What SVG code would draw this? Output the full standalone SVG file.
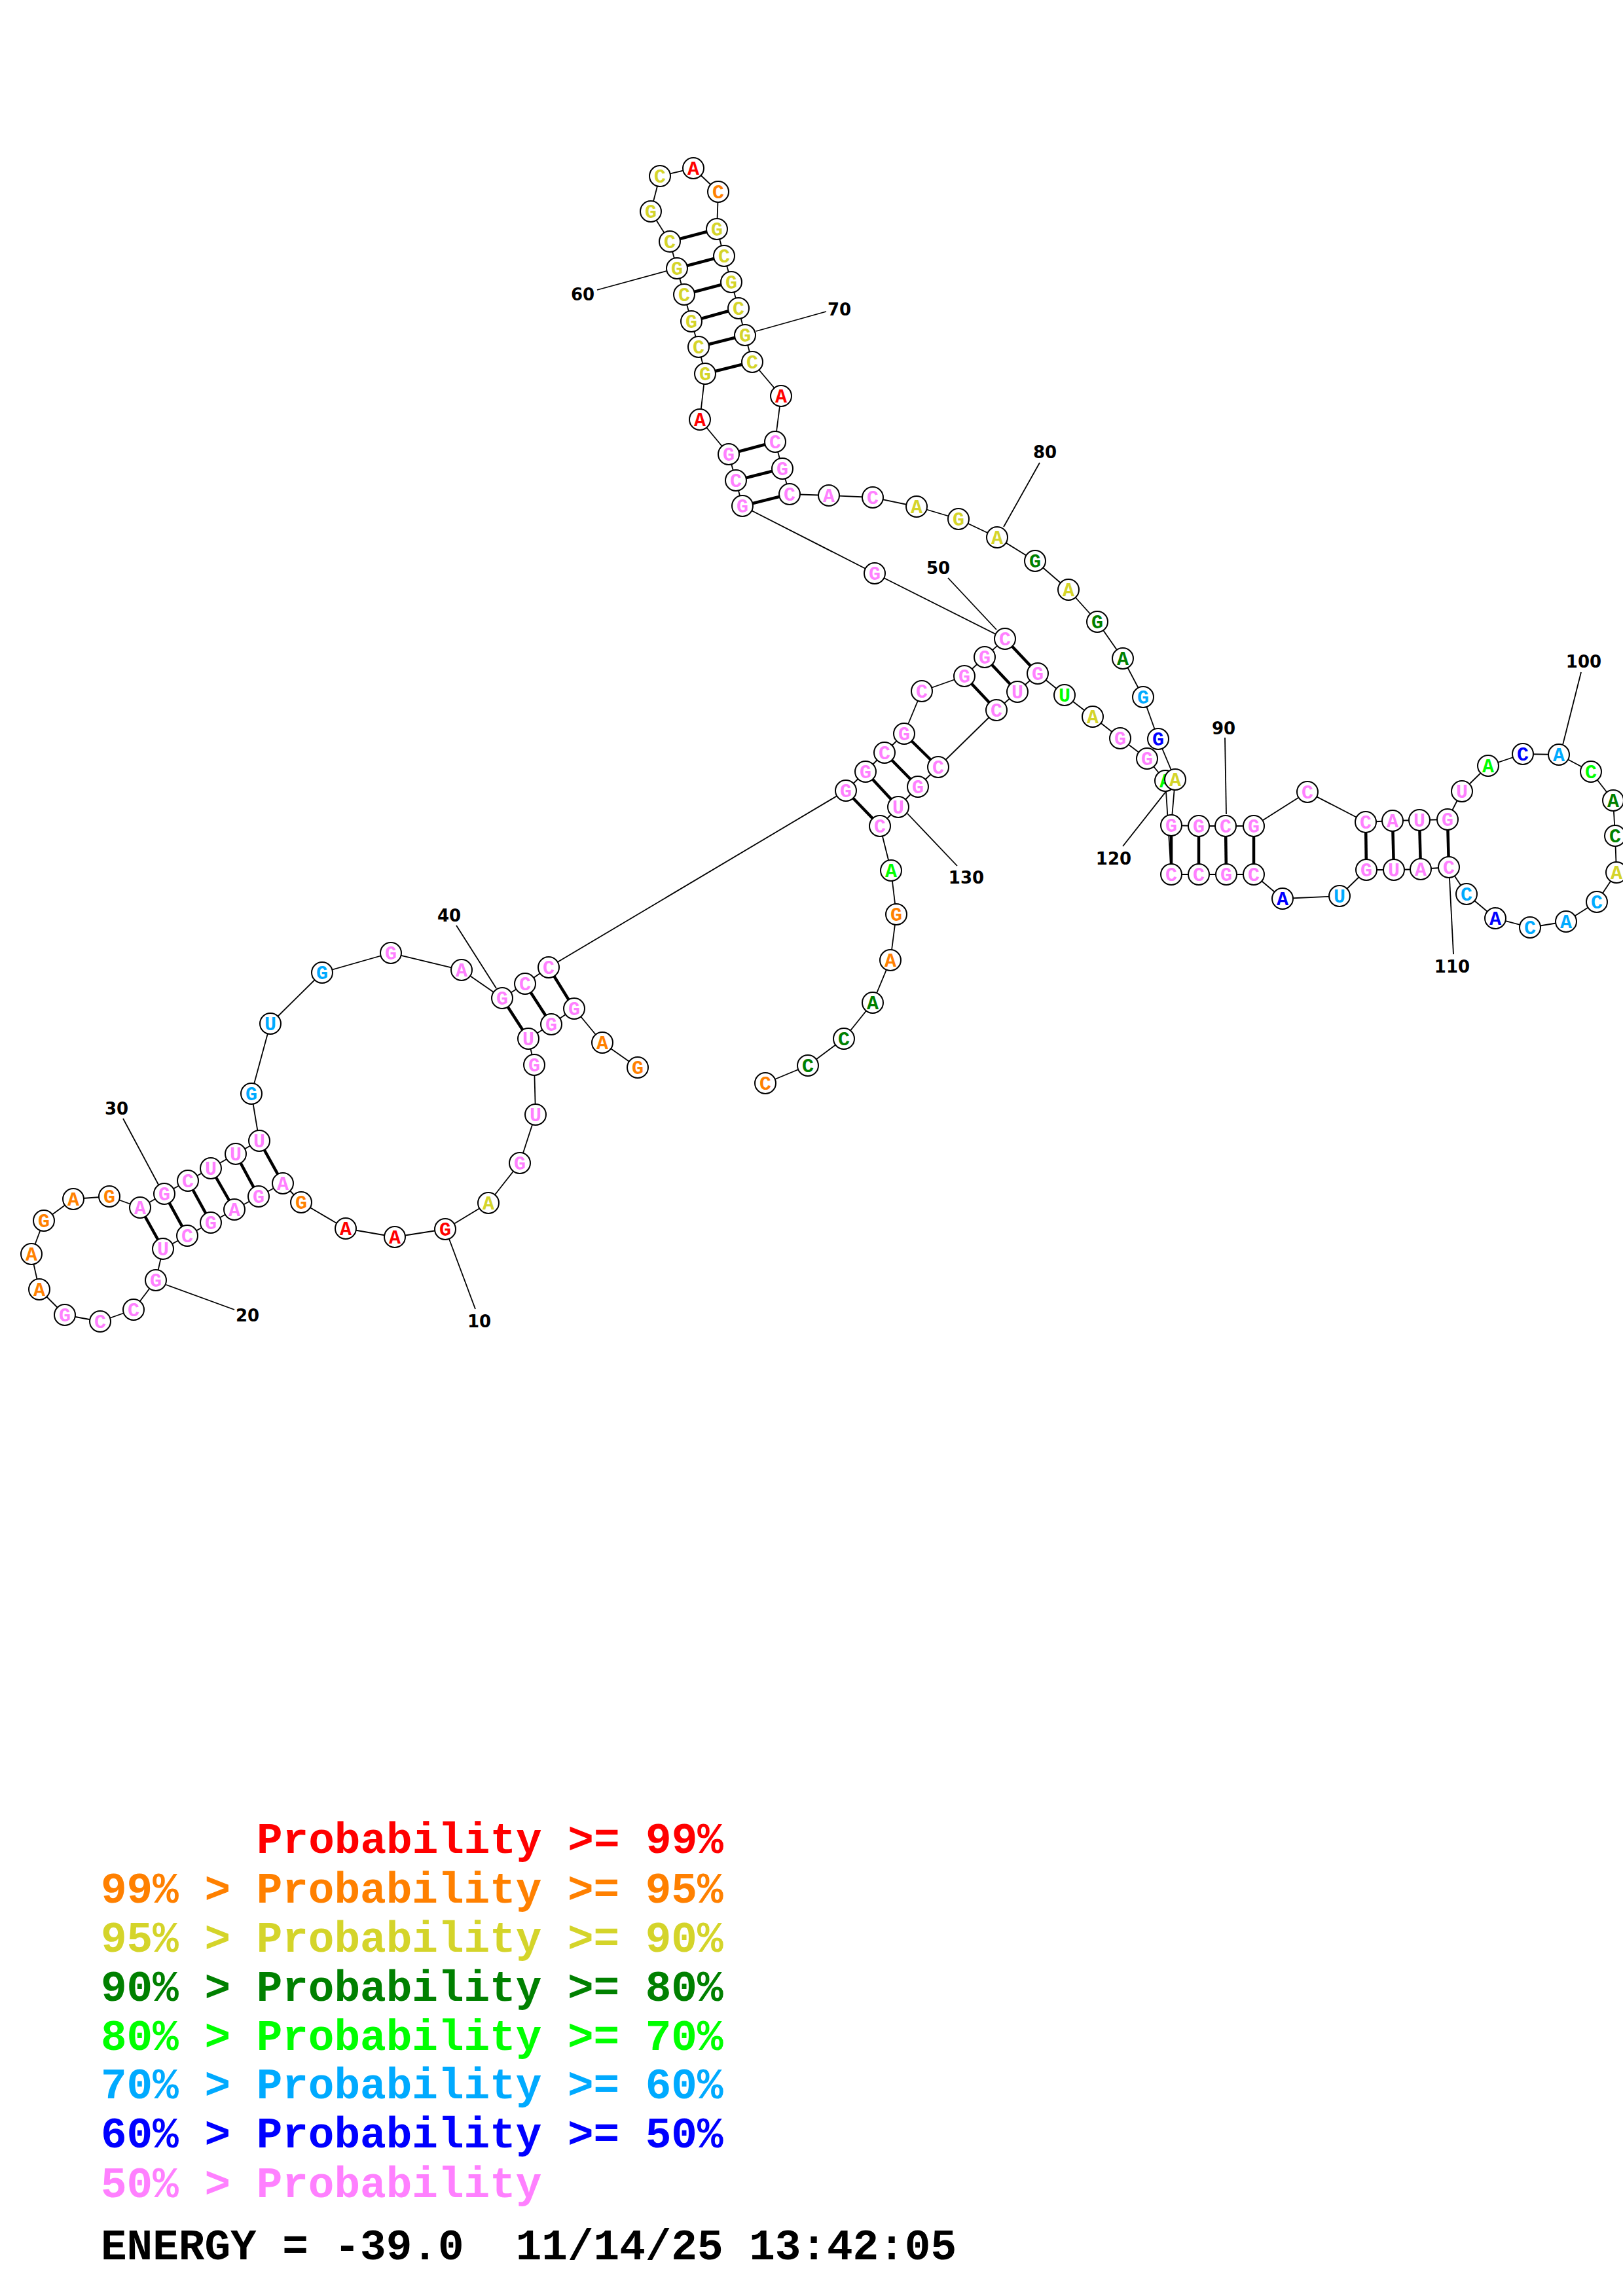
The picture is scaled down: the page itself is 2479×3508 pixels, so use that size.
<svg xmlns="http://www.w3.org/2000/svg" width="2479" height="3508" viewBox="0 0 2479 3508">
<style>
.bg{fill:#fff}
line.bb{stroke:#000;stroke-width:1.8}
line.bp{stroke:#000;stroke-width:4.5}
line.lb{stroke:#000;stroke-width:1.8}
circle{fill:#fff;stroke:#000;stroke-width:2}
text.t{font-family:"Liberation Mono",monospace;font-weight:bold;font-size:30px;text-anchor:middle}
text.n{font-family:"DejaVu Sans",sans-serif;font-weight:bold;font-size:26px;text-anchor:middle;fill:#000}
text.L{font-family:"Liberation Mono",monospace;font-weight:bold;font-size:66px}
.p{fill:#FF80FF}.r{fill:#FF0000}.o{fill:#FF8000}.y{fill:#D4D42A}.dg{fill:#008000}.g{fill:#00FF00}.lb{fill:#00AAFF}.b{fill:#0000FF}.k{fill:#000}
</style>
<rect class="bg" x="0" y="0" width="2479" height="3508"/>
<g id="connectors">
<line class="bb" x1="974" y1="1631" x2="920" y2="1593"/>
<line class="bb" x1="920" y1="1593" x2="877" y2="1541"/>
<line class="bb" x1="877" y1="1541" x2="842" y2="1565"/>
<line class="bb" x1="842" y1="1565" x2="807" y2="1587"/>
<line class="bb" x1="807" y1="1587" x2="816" y2="1627"/>
<line class="bb" x1="816" y1="1627" x2="818" y2="1703"/>
<line class="bb" x1="818" y1="1703" x2="794" y2="1777"/>
<line class="bb" x1="794" y1="1777" x2="746" y2="1838"/>
<line class="bb" x1="746" y1="1838" x2="680" y2="1878"/>
<line class="bb" x1="680" y1="1878" x2="603" y2="1890"/>
<line class="bb" x1="603" y1="1890" x2="528" y2="1877"/>
<line class="bb" x1="528" y1="1877" x2="460" y2="1837"/>
<line class="bb" x1="460" y1="1837" x2="432" y2="1808"/>
<line class="bb" x1="432" y1="1808" x2="395" y2="1828"/>
<line class="bb" x1="395" y1="1828" x2="358" y2="1848"/>
<line class="bb" x1="358" y1="1848" x2="322" y2="1868"/>
<line class="bb" x1="322" y1="1868" x2="286" y2="1888"/>
<line class="bb" x1="286" y1="1888" x2="249" y2="1908"/>
<line class="bb" x1="249" y1="1908" x2="238" y2="1956"/>
<line class="bb" x1="238" y1="1956" x2="204" y2="2001"/>
<line class="bb" x1="204" y1="2001" x2="153" y2="2019"/>
<line class="bb" x1="153" y1="2019" x2="99" y2="2009"/>
<line class="bb" x1="99" y1="2009" x2="60" y2="1970"/>
<line class="bb" x1="60" y1="1970" x2="48" y2="1916"/>
<line class="bb" x1="48" y1="1916" x2="67" y2="1865"/>
<line class="bb" x1="67" y1="1865" x2="112" y2="1832"/>
<line class="bb" x1="112" y1="1832" x2="167" y2="1828"/>
<line class="bb" x1="167" y1="1828" x2="214" y2="1845"/>
<line class="bb" x1="214" y1="1845" x2="251" y2="1824"/>
<line class="bb" x1="251" y1="1824" x2="287" y2="1804"/>
<line class="bb" x1="287" y1="1804" x2="322" y2="1785"/>
<line class="bb" x1="322" y1="1785" x2="360" y2="1763"/>
<line class="bb" x1="360" y1="1763" x2="396" y2="1743"/>
<line class="bb" x1="396" y1="1743" x2="384" y2="1671"/>
<line class="bb" x1="384" y1="1671" x2="413" y2="1564"/>
<line class="bb" x1="413" y1="1564" x2="492" y2="1486"/>
<line class="bb" x1="492" y1="1486" x2="597" y2="1456"/>
<line class="bb" x1="597" y1="1456" x2="705" y2="1482"/>
<line class="bb" x1="705" y1="1482" x2="767" y2="1525"/>
<line class="bb" x1="767" y1="1525" x2="802" y2="1503"/>
<line class="bb" x1="802" y1="1503" x2="838" y2="1478"/>
<line class="bb" x1="838" y1="1478" x2="1292" y2="1208"/>
<line class="bb" x1="1292" y1="1208" x2="1322" y2="1179"/>
<line class="bb" x1="1322" y1="1179" x2="1351" y2="1150"/>
<line class="bb" x1="1351" y1="1150" x2="1381" y2="1121"/>
<line class="bb" x1="1381" y1="1121" x2="1408" y2="1056"/>
<line class="bb" x1="1408" y1="1056" x2="1473" y2="1033"/>
<line class="bb" x1="1473" y1="1033" x2="1504" y2="1004"/>
<line class="bb" x1="1504" y1="1004" x2="1535" y2="976"/>
<line class="bb" x1="1535" y1="976" x2="1336" y2="876"/>
<line class="bb" x1="1336" y1="876" x2="1134" y2="773"/>
<line class="bb" x1="1134" y1="773" x2="1124" y2="734"/>
<line class="bb" x1="1124" y1="734" x2="1113" y2="694"/>
<line class="bb" x1="1113" y1="694" x2="1069" y2="641"/>
<line class="bb" x1="1069" y1="641" x2="1077" y2="571"/>
<line class="bb" x1="1077" y1="571" x2="1067" y2="530"/>
<line class="bb" x1="1067" y1="530" x2="1056" y2="491"/>
<line class="bb" x1="1056" y1="491" x2="1045" y2="450"/>
<line class="bb" x1="1045" y1="450" x2="1034" y2="410"/>
<line class="bb" x1="1034" y1="410" x2="1023" y2="369"/>
<line class="bb" x1="1023" y1="369" x2="994" y2="323"/>
<line class="bb" x1="994" y1="323" x2="1008" y2="269"/>
<line class="bb" x1="1008" y1="269" x2="1059" y2="257"/>
<line class="bb" x1="1059" y1="257" x2="1097" y2="293"/>
<line class="bb" x1="1097" y1="293" x2="1095" y2="350"/>
<line class="bb" x1="1095" y1="350" x2="1106" y2="391"/>
<line class="bb" x1="1106" y1="391" x2="1117" y2="431"/>
<line class="bb" x1="1117" y1="431" x2="1128" y2="471"/>
<line class="bb" x1="1128" y1="471" x2="1138" y2="512"/>
<line class="bb" x1="1138" y1="512" x2="1149" y2="553"/>
<line class="bb" x1="1149" y1="553" x2="1193" y2="605"/>
<line class="bb" x1="1193" y1="605" x2="1184" y2="675"/>
<line class="bb" x1="1184" y1="675" x2="1195" y2="716"/>
<line class="bb" x1="1195" y1="716" x2="1206" y2="755"/>
<line class="bb" x1="1206" y1="755" x2="1266" y2="757"/>
<line class="bb" x1="1266" y1="757" x2="1333" y2="760"/>
<line class="bb" x1="1333" y1="760" x2="1400" y2="774"/>
<line class="bb" x1="1400" y1="774" x2="1464" y2="793"/>
<line class="bb" x1="1464" y1="793" x2="1523" y2="821"/>
<line class="bb" x1="1523" y1="821" x2="1581" y2="857"/>
<line class="bb" x1="1581" y1="857" x2="1632" y2="901"/>
<line class="bb" x1="1632" y1="901" x2="1676" y2="950"/>
<line class="bb" x1="1676" y1="950" x2="1715" y2="1006"/>
<line class="bb" x1="1715" y1="1006" x2="1746" y2="1065"/>
<line class="bb" x1="1746" y1="1065" x2="1769" y2="1129"/>
<line class="bb" x1="1769" y1="1129" x2="1795" y2="1191"/>
<line class="bb" x1="1795" y1="1191" x2="1789" y2="1261"/>
<line class="bb" x1="1789" y1="1261" x2="1831" y2="1262"/>
<line class="bb" x1="1831" y1="1262" x2="1872" y2="1262"/>
<line class="bb" x1="1872" y1="1262" x2="1915" y2="1262"/>
<line class="bb" x1="1915" y1="1262" x2="1997" y2="1210"/>
<line class="bb" x1="1997" y1="1210" x2="2086" y2="1256"/>
<line class="bb" x1="2086" y1="1256" x2="2127" y2="1254"/>
<line class="bb" x1="2127" y1="1254" x2="2168" y2="1253"/>
<line class="bb" x1="2168" y1="1253" x2="2211" y2="1252"/>
<line class="bb" x1="2211" y1="1252" x2="2233" y2="1209"/>
<line class="bb" x1="2233" y1="1209" x2="2273" y2="1170"/>
<line class="bb" x1="2273" y1="1170" x2="2326" y2="1152"/>
<line class="bb" x1="2326" y1="1152" x2="2381" y2="1153"/>
<line class="bb" x1="2381" y1="1153" x2="2430" y2="1179"/>
<line class="bb" x1="2430" y1="1179" x2="2464" y2="1223"/>
<line class="bb" x1="2464" y1="1223" x2="2467" y2="1277"/>
<line class="bb" x1="2467" y1="1277" x2="2469" y2="1333"/>
<line class="bb" x1="2469" y1="1333" x2="2439" y2="1378"/>
<line class="bb" x1="2439" y1="1378" x2="2392" y2="1408"/>
<line class="bb" x1="2392" y1="1408" x2="2337" y2="1417"/>
<line class="bb" x1="2337" y1="1417" x2="2284" y2="1403"/>
<line class="bb" x1="2284" y1="1403" x2="2240" y2="1366"/>
<line class="bb" x1="2240" y1="1366" x2="2213" y2="1325"/>
<line class="bb" x1="2213" y1="1325" x2="2170" y2="1328"/>
<line class="bb" x1="2170" y1="1328" x2="2129" y2="1329"/>
<line class="bb" x1="2129" y1="1329" x2="2087" y2="1329"/>
<line class="bb" x1="2087" y1="1329" x2="2046" y2="1369"/>
<line class="bb" x1="2046" y1="1369" x2="1959" y2="1373"/>
<line class="bb" x1="1959" y1="1373" x2="1915" y2="1336"/>
<line class="bb" x1="1915" y1="1336" x2="1873" y2="1336"/>
<line class="bb" x1="1873" y1="1336" x2="1831" y2="1336"/>
<line class="bb" x1="1831" y1="1336" x2="1789" y2="1336"/>
<line class="bb" x1="1789" y1="1336" x2="1780" y2="1193"/>
<line class="bb" x1="1780" y1="1193" x2="1752" y2="1159"/>
<line class="bb" x1="1752" y1="1159" x2="1711" y2="1128"/>
<line class="bb" x1="1711" y1="1128" x2="1669" y2="1095"/>
<line class="bb" x1="1669" y1="1095" x2="1626" y2="1062"/>
<line class="bb" x1="1626" y1="1062" x2="1585" y2="1029"/>
<line class="bb" x1="1585" y1="1029" x2="1554" y2="1057"/>
<line class="bb" x1="1554" y1="1057" x2="1522" y2="1085"/>
<line class="bb" x1="1522" y1="1085" x2="1433" y2="1172"/>
<line class="bb" x1="1433" y1="1172" x2="1402" y2="1202"/>
<line class="bb" x1="1402" y1="1202" x2="1372" y2="1233"/>
<line class="bb" x1="1372" y1="1233" x2="1344" y2="1262"/>
<line class="bb" x1="1344" y1="1262" x2="1361" y2="1330"/>
<line class="bb" x1="1361" y1="1330" x2="1369" y2="1397"/>
<line class="bb" x1="1369" y1="1397" x2="1360" y2="1467"/>
<line class="bb" x1="1360" y1="1467" x2="1333" y2="1532"/>
<line class="bb" x1="1333" y1="1532" x2="1289" y2="1587"/>
<line class="bb" x1="1289" y1="1587" x2="1234" y2="1628"/>
<line class="bb" x1="1234" y1="1628" x2="1169" y2="1655"/>
<line class="bp" x1="877" y1="1541" x2="838" y2="1478"/>
<line class="bp" x1="842" y1="1565" x2="802" y2="1503"/>
<line class="bp" x1="807" y1="1587" x2="767" y2="1525"/>
<line class="bp" x1="432" y1="1808" x2="396" y2="1743"/>
<line class="bp" x1="395" y1="1828" x2="360" y2="1763"/>
<line class="bp" x1="358" y1="1848" x2="322" y2="1785"/>
<line class="bp" x1="322" y1="1868" x2="287" y2="1804"/>
<line class="bp" x1="286" y1="1888" x2="251" y2="1824"/>
<line class="bp" x1="249" y1="1908" x2="214" y2="1845"/>
<line class="bp" x1="1292" y1="1208" x2="1344" y2="1262"/>
<line class="bp" x1="1322" y1="1179" x2="1372" y2="1233"/>
<line class="bp" x1="1351" y1="1150" x2="1402" y2="1202"/>
<line class="bp" x1="1381" y1="1121" x2="1433" y2="1172"/>
<line class="bp" x1="1473" y1="1033" x2="1522" y2="1085"/>
<line class="bp" x1="1504" y1="1004" x2="1554" y2="1057"/>
<line class="bp" x1="1535" y1="976" x2="1585" y2="1029"/>
<line class="bp" x1="1134" y1="773" x2="1206" y2="755"/>
<line class="bp" x1="1124" y1="734" x2="1195" y2="716"/>
<line class="bp" x1="1113" y1="694" x2="1184" y2="675"/>
<line class="bp" x1="1077" y1="571" x2="1149" y2="553"/>
<line class="bp" x1="1067" y1="530" x2="1138" y2="512"/>
<line class="bp" x1="1056" y1="491" x2="1128" y2="471"/>
<line class="bp" x1="1045" y1="450" x2="1117" y2="431"/>
<line class="bp" x1="1034" y1="410" x2="1106" y2="391"/>
<line class="bp" x1="1023" y1="369" x2="1095" y2="350"/>
<line class="bp" x1="1789" y1="1261" x2="1789" y2="1336"/>
<line class="bp" x1="1831" y1="1262" x2="1831" y2="1336"/>
<line class="bp" x1="1872" y1="1262" x2="1873" y2="1336"/>
<line class="bp" x1="1915" y1="1262" x2="1915" y2="1336"/>
<line class="bp" x1="2086" y1="1256" x2="2087" y2="1329"/>
<line class="bp" x1="2127" y1="1254" x2="2129" y2="1329"/>
<line class="bp" x1="2168" y1="1253" x2="2170" y2="1328"/>
<line class="bp" x1="2211" y1="1252" x2="2213" y2="1325"/>
</g>
<g id="label-ticks">
<line class="lb" x1="686" y1="1893" x2="726" y2="2000"/>
<line class="lb" x1="254" y1="1963" x2="358" y2="2001"/>
<line class="lb" x1="188" y1="1709" x2="242" y2="1810"/>
<line class="lb" x1="697" y1="1414" x2="758" y2="1510"/>
<line class="lb" x1="1448" y1="883" x2="1522" y2="962"/>
<line class="lb" x1="912" y1="443" x2="1018" y2="414"/>
<line class="lb" x1="1262" y1="476" x2="1155" y2="506"/>
<line class="lb" x1="1588" y1="707" x2="1533" y2="805"/>
<line class="lb" x1="1871" y1="1127" x2="1873" y2="1244"/>
<line class="lb" x1="2415" y1="1027" x2="2387" y2="1138"/>
<line class="lb" x1="2214" y1="1342" x2="2220" y2="1458"/>
<line class="lb" x1="1782" y1="1208" x2="1715" y2="1293"/>
<line class="lb" x1="1386" y1="1243" x2="1462" y2="1323"/>
</g>
<g id="nodes">
<g id="n1"><circle cx="974" cy="1631" r="16"/><text class="t o" x="974" y="1641">G</text></g>
<g id="n2"><circle cx="920" cy="1593" r="16"/><text class="t o" x="920" y="1603">A</text></g>
<g id="n3"><circle cx="877" cy="1541" r="16"/><text class="t p" x="877" y="1551">G</text></g>
<g id="n4"><circle cx="842" cy="1565" r="16"/><text class="t p" x="842" y="1575">G</text></g>
<g id="n5"><circle cx="807" cy="1587" r="16"/><text class="t p" x="807" y="1597">U</text></g>
<g id="n6"><circle cx="816" cy="1627" r="16"/><text class="t p" x="816" y="1637">G</text></g>
<g id="n7"><circle cx="818" cy="1703" r="16"/><text class="t p" x="818" y="1713">U</text></g>
<g id="n8"><circle cx="794" cy="1777" r="16"/><text class="t p" x="794" y="1787">G</text></g>
<g id="n9"><circle cx="746" cy="1838" r="16"/><text class="t y" x="746" y="1848">A</text></g>
<g id="n10"><circle cx="680" cy="1878" r="16"/><text class="t r" x="680" y="1888">G</text></g>
<g id="n11"><circle cx="603" cy="1890" r="16"/><text class="t r" x="603" y="1900">A</text></g>
<g id="n12"><circle cx="528" cy="1877" r="16"/><text class="t r" x="528" y="1887">A</text></g>
<g id="n13"><circle cx="460" cy="1837" r="16"/><text class="t o" x="460" y="1847">G</text></g>
<g id="n14"><circle cx="432" cy="1808" r="16"/><text class="t p" x="432" y="1818">A</text></g>
<g id="n15"><circle cx="395" cy="1828" r="16"/><text class="t p" x="395" y="1838">G</text></g>
<g id="n16"><circle cx="358" cy="1848" r="16"/><text class="t p" x="358" y="1858">A</text></g>
<g id="n17"><circle cx="322" cy="1868" r="16"/><text class="t p" x="322" y="1878">G</text></g>
<g id="n18"><circle cx="286" cy="1888" r="16"/><text class="t p" x="286" y="1898">C</text></g>
<g id="n19"><circle cx="249" cy="1908" r="16"/><text class="t p" x="249" y="1918">U</text></g>
<g id="n20"><circle cx="238" cy="1956" r="16"/><text class="t p" x="238" y="1966">G</text></g>
<g id="n21"><circle cx="204" cy="2001" r="16"/><text class="t p" x="204" y="2011">C</text></g>
<g id="n22"><circle cx="153" cy="2019" r="16"/><text class="t p" x="153" y="2029">C</text></g>
<g id="n23"><circle cx="99" cy="2009" r="16"/><text class="t p" x="99" y="2019">G</text></g>
<g id="n24"><circle cx="60" cy="1970" r="16"/><text class="t o" x="60" y="1980">A</text></g>
<g id="n25"><circle cx="48" cy="1916" r="16"/><text class="t o" x="48" y="1926">A</text></g>
<g id="n26"><circle cx="67" cy="1865" r="16"/><text class="t o" x="67" y="1875">G</text></g>
<g id="n27"><circle cx="112" cy="1832" r="16"/><text class="t o" x="112" y="1842">A</text></g>
<g id="n28"><circle cx="167" cy="1828" r="16"/><text class="t o" x="167" y="1838">G</text></g>
<g id="n29"><circle cx="214" cy="1845" r="16"/><text class="t p" x="214" y="1855">A</text></g>
<g id="n30"><circle cx="251" cy="1824" r="16"/><text class="t p" x="251" y="1834">G</text></g>
<g id="n31"><circle cx="287" cy="1804" r="16"/><text class="t p" x="287" y="1814">C</text></g>
<g id="n32"><circle cx="322" cy="1785" r="16"/><text class="t p" x="322" y="1795">U</text></g>
<g id="n33"><circle cx="360" cy="1763" r="16"/><text class="t p" x="360" y="1773">U</text></g>
<g id="n34"><circle cx="396" cy="1743" r="16"/><text class="t p" x="396" y="1753">U</text></g>
<g id="n35"><circle cx="384" cy="1671" r="16"/><text class="t lb" x="384" y="1681">G</text></g>
<g id="n36"><circle cx="413" cy="1564" r="16"/><text class="t lb" x="413" y="1574">U</text></g>
<g id="n37"><circle cx="492" cy="1486" r="16"/><text class="t lb" x="492" y="1496">G</text></g>
<g id="n38"><circle cx="597" cy="1456" r="16"/><text class="t p" x="597" y="1466">G</text></g>
<g id="n39"><circle cx="705" cy="1482" r="16"/><text class="t p" x="705" y="1492">A</text></g>
<g id="n40"><circle cx="767" cy="1525" r="16"/><text class="t p" x="767" y="1535">G</text></g>
<g id="n41"><circle cx="802" cy="1503" r="16"/><text class="t p" x="802" y="1513">C</text></g>
<g id="n42"><circle cx="838" cy="1478" r="16"/><text class="t p" x="838" y="1488">C</text></g>
<g id="n43"><circle cx="1292" cy="1208" r="16"/><text class="t p" x="1292" y="1218">G</text></g>
<g id="n44"><circle cx="1322" cy="1179" r="16"/><text class="t p" x="1322" y="1189">G</text></g>
<g id="n45"><circle cx="1351" cy="1150" r="16"/><text class="t p" x="1351" y="1160">C</text></g>
<g id="n46"><circle cx="1381" cy="1121" r="16"/><text class="t p" x="1381" y="1131">G</text></g>
<g id="n47"><circle cx="1408" cy="1056" r="16"/><text class="t p" x="1408" y="1066">C</text></g>
<g id="n48"><circle cx="1473" cy="1033" r="16"/><text class="t p" x="1473" y="1043">G</text></g>
<g id="n49"><circle cx="1504" cy="1004" r="16"/><text class="t p" x="1504" y="1014">G</text></g>
<g id="n50"><circle cx="1535" cy="976" r="16"/><text class="t p" x="1535" y="986">C</text></g>
<g id="n51"><circle cx="1336" cy="876" r="16"/><text class="t p" x="1336" y="886">G</text></g>
<g id="n52"><circle cx="1134" cy="773" r="16"/><text class="t p" x="1134" y="783">G</text></g>
<g id="n53"><circle cx="1124" cy="734" r="16"/><text class="t p" x="1124" y="744">C</text></g>
<g id="n54"><circle cx="1113" cy="694" r="16"/><text class="t p" x="1113" y="704">G</text></g>
<g id="n55"><circle cx="1069" cy="641" r="16"/><text class="t r" x="1069" y="651">A</text></g>
<g id="n56"><circle cx="1077" cy="571" r="16"/><text class="t y" x="1077" y="581">G</text></g>
<g id="n57"><circle cx="1067" cy="530" r="16"/><text class="t y" x="1067" y="540">C</text></g>
<g id="n58"><circle cx="1056" cy="491" r="16"/><text class="t y" x="1056" y="501">G</text></g>
<g id="n59"><circle cx="1045" cy="450" r="16"/><text class="t y" x="1045" y="460">C</text></g>
<g id="n60"><circle cx="1034" cy="410" r="16"/><text class="t y" x="1034" y="420">G</text></g>
<g id="n61"><circle cx="1023" cy="369" r="16"/><text class="t y" x="1023" y="379">C</text></g>
<g id="n62"><circle cx="994" cy="323" r="16"/><text class="t y" x="994" y="333">G</text></g>
<g id="n63"><circle cx="1008" cy="269" r="16"/><text class="t y" x="1008" y="279">C</text></g>
<g id="n64"><circle cx="1059" cy="257" r="16"/><text class="t r" x="1059" y="267">A</text></g>
<g id="n65"><circle cx="1097" cy="293" r="16"/><text class="t o" x="1097" y="303">C</text></g>
<g id="n66"><circle cx="1095" cy="350" r="16"/><text class="t y" x="1095" y="360">G</text></g>
<g id="n67"><circle cx="1106" cy="391" r="16"/><text class="t y" x="1106" y="401">C</text></g>
<g id="n68"><circle cx="1117" cy="431" r="16"/><text class="t y" x="1117" y="441">G</text></g>
<g id="n69"><circle cx="1128" cy="471" r="16"/><text class="t y" x="1128" y="481">C</text></g>
<g id="n70"><circle cx="1138" cy="512" r="16"/><text class="t y" x="1138" y="522">G</text></g>
<g id="n71"><circle cx="1149" cy="553" r="16"/><text class="t y" x="1149" y="563">C</text></g>
<g id="n72"><circle cx="1193" cy="605" r="16"/><text class="t r" x="1193" y="615">A</text></g>
<g id="n73"><circle cx="1184" cy="675" r="16"/><text class="t p" x="1184" y="685">C</text></g>
<g id="n74"><circle cx="1195" cy="716" r="16"/><text class="t p" x="1195" y="726">G</text></g>
<g id="n75"><circle cx="1206" cy="755" r="16"/><text class="t p" x="1206" y="765">C</text></g>
<g id="n76"><circle cx="1266" cy="757" r="16"/><text class="t p" x="1266" y="767">A</text></g>
<g id="n77"><circle cx="1333" cy="760" r="16"/><text class="t p" x="1333" y="770">C</text></g>
<g id="n78"><circle cx="1400" cy="774" r="16"/><text class="t y" x="1400" y="784">A</text></g>
<g id="n79"><circle cx="1464" cy="793" r="16"/><text class="t y" x="1464" y="803">G</text></g>
<g id="n80"><circle cx="1523" cy="821" r="16"/><text class="t y" x="1523" y="831">A</text></g>
<g id="n81"><circle cx="1581" cy="857" r="16"/><text class="t dg" x="1581" y="867">G</text></g>
<g id="n82"><circle cx="1632" cy="901" r="16"/><text class="t y" x="1632" y="911">A</text></g>
<g id="n83"><circle cx="1676" cy="950" r="16"/><text class="t dg" x="1676" y="960">G</text></g>
<g id="n84"><circle cx="1715" cy="1006" r="16"/><text class="t dg" x="1715" y="1016">A</text></g>
<g id="n85"><circle cx="1746" cy="1065" r="16"/><text class="t lb" x="1746" y="1075">G</text></g>
<g id="n86"><circle cx="1769" cy="1129" r="16"/><text class="t b" x="1769" y="1139">G</text></g>
<g id="n88"><circle cx="1789" cy="1261" r="16"/><text class="t p" x="1789" y="1271">G</text></g>
<g id="n89"><circle cx="1831" cy="1262" r="16"/><text class="t p" x="1831" y="1272">G</text></g>
<g id="n90"><circle cx="1872" cy="1262" r="16"/><text class="t p" x="1872" y="1272">C</text></g>
<g id="n91"><circle cx="1915" cy="1262" r="16"/><text class="t p" x="1915" y="1272">G</text></g>
<g id="n92"><circle cx="1997" cy="1210" r="16"/><text class="t p" x="1997" y="1220">C</text></g>
<g id="n93"><circle cx="2086" cy="1256" r="16"/><text class="t p" x="2086" y="1266">C</text></g>
<g id="n94"><circle cx="2127" cy="1254" r="16"/><text class="t p" x="2127" y="1264">A</text></g>
<g id="n95"><circle cx="2168" cy="1253" r="16"/><text class="t p" x="2168" y="1263">U</text></g>
<g id="n96"><circle cx="2211" cy="1252" r="16"/><text class="t p" x="2211" y="1262">G</text></g>
<g id="n97"><circle cx="2233" cy="1209" r="16"/><text class="t p" x="2233" y="1219">U</text></g>
<g id="n98"><circle cx="2273" cy="1170" r="16"/><text class="t g" x="2273" y="1180">A</text></g>
<g id="n99"><circle cx="2326" cy="1152" r="16"/><text class="t b" x="2326" y="1162">C</text></g>
<g id="n100"><circle cx="2381" cy="1153" r="16"/><text class="t lb" x="2381" y="1163">A</text></g>
<g id="n101"><circle cx="2430" cy="1179" r="16"/><text class="t g" x="2430" y="1189">C</text></g>
<g id="n102"><circle cx="2464" cy="1223" r="16"/><text class="t dg" x="2464" y="1233">A</text></g>
<g id="n103"><circle cx="2467" cy="1277" r="16"/><text class="t dg" x="2467" y="1287">C</text></g>
<g id="n104"><circle cx="2469" cy="1333" r="16"/><text class="t y" x="2469" y="1343">A</text></g>
<g id="n105"><circle cx="2439" cy="1378" r="16"/><text class="t lb" x="2439" y="1388">C</text></g>
<g id="n106"><circle cx="2392" cy="1408" r="16"/><text class="t lb" x="2392" y="1418">A</text></g>
<g id="n107"><circle cx="2337" cy="1417" r="16"/><text class="t lb" x="2337" y="1427">C</text></g>
<g id="n108"><circle cx="2284" cy="1403" r="16"/><text class="t b" x="2284" y="1413">A</text></g>
<g id="n109"><circle cx="2240" cy="1366" r="16"/><text class="t lb" x="2240" y="1376">C</text></g>
<g id="n110"><circle cx="2213" cy="1325" r="16"/><text class="t p" x="2213" y="1335">C</text></g>
<g id="n111"><circle cx="2170" cy="1328" r="16"/><text class="t p" x="2170" y="1338">A</text></g>
<g id="n112"><circle cx="2129" cy="1329" r="16"/><text class="t p" x="2129" y="1339">U</text></g>
<g id="n113"><circle cx="2087" cy="1329" r="16"/><text class="t p" x="2087" y="1339">G</text></g>
<g id="n114"><circle cx="2046" cy="1369" r="16"/><text class="t lb" x="2046" y="1379">U</text></g>
<g id="n115"><circle cx="1959" cy="1373" r="16"/><text class="t b" x="1959" y="1383">A</text></g>
<g id="n116"><circle cx="1915" cy="1336" r="16"/><text class="t p" x="1915" y="1346">C</text></g>
<g id="n117"><circle cx="1873" cy="1336" r="16"/><text class="t p" x="1873" y="1346">G</text></g>
<g id="n118"><circle cx="1831" cy="1336" r="16"/><text class="t p" x="1831" y="1346">C</text></g>
<g id="n119"><circle cx="1789" cy="1336" r="16"/><text class="t p" x="1789" y="1346">C</text></g>
<g id="n120"><circle cx="1780" cy="1193" r="16"/><text class="t g" x="1780" y="1203">A</text></g>
<g id="n121"><circle cx="1752" cy="1159" r="16"/><text class="t p" x="1752" y="1169">G</text></g>
<g id="n122"><circle cx="1711" cy="1128" r="16"/><text class="t p" x="1711" y="1138">G</text></g>
<g id="n123"><circle cx="1669" cy="1095" r="16"/><text class="t y" x="1669" y="1105">A</text></g>
<g id="n124"><circle cx="1626" cy="1062" r="16"/><text class="t g" x="1626" y="1072">U</text></g>
<g id="n125"><circle cx="1585" cy="1029" r="16"/><text class="t p" x="1585" y="1039">G</text></g>
<g id="n126"><circle cx="1554" cy="1057" r="16"/><text class="t p" x="1554" y="1067">U</text></g>
<g id="n127"><circle cx="1522" cy="1085" r="16"/><text class="t p" x="1522" y="1095">C</text></g>
<g id="n128"><circle cx="1433" cy="1172" r="16"/><text class="t p" x="1433" y="1182">C</text></g>
<g id="n129"><circle cx="1402" cy="1202" r="16"/><text class="t p" x="1402" y="1212">G</text></g>
<g id="n130"><circle cx="1372" cy="1233" r="16"/><text class="t p" x="1372" y="1243">U</text></g>
<g id="n131"><circle cx="1344" cy="1262" r="16"/><text class="t p" x="1344" y="1272">C</text></g>
<g id="n132"><circle cx="1361" cy="1330" r="16"/><text class="t g" x="1361" y="1340">A</text></g>
<g id="n133"><circle cx="1369" cy="1397" r="16"/><text class="t o" x="1369" y="1407">G</text></g>
<g id="n134"><circle cx="1360" cy="1467" r="16"/><text class="t o" x="1360" y="1477">A</text></g>
<g id="n135"><circle cx="1333" cy="1532" r="16"/><text class="t dg" x="1333" y="1542">A</text></g>
<g id="n136"><circle cx="1289" cy="1587" r="16"/><text class="t dg" x="1289" y="1597">C</text></g>
<g id="n137"><circle cx="1234" cy="1628" r="16"/><text class="t dg" x="1234" y="1638">C</text></g>
<g id="n138"><circle cx="1169" cy="1655" r="16"/><text class="t o" x="1169" y="1665">C</text></g>
<g id="n87"><circle cx="1795" cy="1191" r="16"/><text class="t y" x="1795" y="1201">A</text></g>
</g>
<g id="numbers">
<text class="n" x="732" y="2028">10</text>
<text class="n" x="378" y="2019">20</text>
<text class="n" x="178" y="1703">30</text>
<text class="n" x="686" y="1408">40</text>
<text class="n" x="1433" y="877">50</text>
<text class="n" x="890" y="459">60</text>
<text class="n" x="1282" y="482">70</text>
<text class="n" x="1596" y="700">80</text>
<text class="n" x="1869" y="1122">90</text>
<text class="n" x="2419" y="1020">100</text>
<text class="n" x="2218" y="1486">110</text>
<text class="n" x="1701" y="1321">120</text>
<text class="n" x="1476" y="1350">130</text>
</g>
<g id="legend">
<text class="L r" x="392" y="2831">Probability &gt;= 99%</text>
<text class="L o" x="154" y="2907">99% &gt; Probability &gt;= 95%</text>
<text class="L y" x="154" y="2982">95% &gt; Probability &gt;= 90%</text>
<text class="L dg" x="154" y="3057">90% &gt; Probability &gt;= 80%</text>
<text class="L g" x="154" y="3132">80% &gt; Probability &gt;= 70%</text>
<text class="L lb" x="154" y="3206">70% &gt; Probability &gt;= 60%</text>
<text class="L b" x="154" y="3281">60% &gt; Probability &gt;= 50%</text>
<text class="L p" x="154" y="3357">50% &gt; Probability</text>
<text class="L k" x="154" y="3452" xml:space="preserve">ENERGY = -39.0  11/14/25 13:42:05</text>
</g>
</svg>
